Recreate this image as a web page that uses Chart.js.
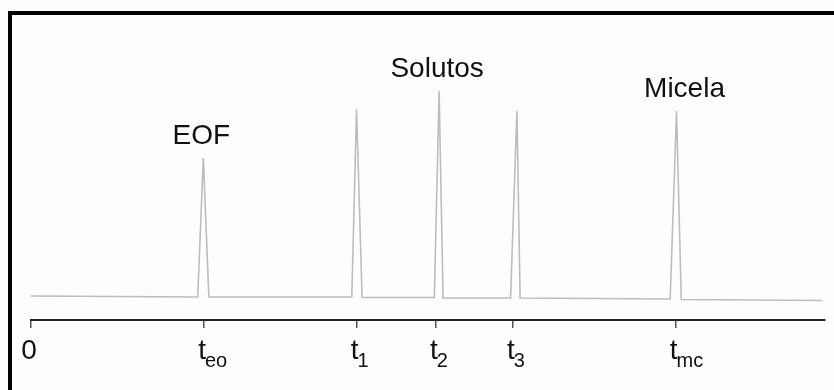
<!DOCTYPE html>
<html lang="es">
<head>
<meta charset="utf-8">
<title>Electroferograma MEKC</title>
<script src="https://cdn.jsdelivr.net/npm/chart.js@4.4.1/dist/chart.umd.min.js"></script>
<style>
  html, body { margin: 0; padding: 0; background: #fdfdfd; }
  #wrap { position: relative; width: 834px; height: 390px; overflow: hidden; }
  #frame {
    position: absolute; left: 8px; top: 11px; right: -10px; bottom: -10px;
    border-top: 4px solid #000; border-left: 4px solid #000;
  }
  canvas { position: absolute; left: 0; top: 0; }
</style>
</head>
<body>
<div id="wrap">
  <canvas id="electroferograma" width="834" height="390"></canvas>
  <div id="frame"></div>
</div>
<script>
// Tiempo de migración (u.a.) y señal del detector (u.a.)
const tiempo = [0, 21.0, 21.7, 22.4, 40.4, 41.0, 41.7, 50.8, 51.4, 51.9, 60.4, 61.2, 61.6, 80.5, 81.3, 81.9, 99.6];
const senal  = [0.1, 0, 13.9, 0, 0, 18.8, -0.05, -0.05, 20.6, -0.1, -0.1, 18.6, -0.1, -0.2, 18.6, -0.25, -0.35];

// Marcas del eje de tiempo: texto principal y subíndice
const tickTiempos = [0, 21.8, 41.0, 51.0, 60.7, 81.2];
const tickTexto = ['0', 't', 't', 't', 't', 't'];
const tickSub = ['', 'eo', '1', '2', '3', 'mc'];

// Rótulos de los picos y posición del máximo en la señal
const picoTexto = ['EOF', 'Solutos', 'Micela'];
const picoIndice = [2, 8, 14];

// Nivel (en unidades de señal) donde se dibuja el eje de tiempo
const ejeY = -2.3;

const FUENTE = '"Liberation Sans", Arial, sans-serif';

const rotulos = {
    id: 'rotulos',
    afterDraw(chart) {
        const { ctx } = chart;
        const x = chart.scales.x;
        const y = chart.scales.y;
        ctx.save();
        ctx.fillStyle = '#111';
        ctx.textBaseline = 'alphabetic';

        // nombres sobre los picos
        const desp = [-2, -2, 8];
        ctx.font = '28px ' + FUENTE;
        ctx.textAlign = 'center';
        picoTexto.forEach((txt, i) => {
            const k = picoIndice[i];
            ctx.fillText(txt, x.getPixelForValue(tiempo[k]) + desp[i], y.getPixelForValue(senal[k]) - 14);
        });

        // etiquetas del eje con subíndice
        const base = y.getPixelForValue(ejeY) + 39;
        tickTiempos.forEach((t, i) => {
            const px = x.getPixelForValue(t) - 2;
            ctx.font = '28px ' + FUENTE;
            ctx.textAlign = 'center';
            ctx.fillText(tickTexto[i], px, base);
            if (tickSub[i]) {
                const w = ctx.measureText(tickTexto[i]).width;
                ctx.font = '20px ' + FUENTE;
                ctx.textAlign = 'left';
                ctx.fillText(tickSub[i], px + w / 2 - 1, base + 8);
            }
        });
        ctx.restore();
    }
};

new Chart(document.getElementById('electroferograma'), {
    type: 'line',
    data: {
        datasets: [{
            label: 'Señal',
            data: tiempo.map((t, i) => ({ x: t, y: senal[i] })),
            borderColor: '#bdbdbd',
            borderWidth: 1.6,
            pointRadius: 0,
            tension: 0,
            fill: false
        }]
    },
    options: {
        responsive: false,
        animation: false,
        layout: { padding: { left: 31, right: 9, top: 0, bottom: 0 } },
        plugins: {
            legend: { display: false },
            tooltip: { enabled: false }
        },
        scales: {
            x: {
                type: 'linear',
                min: 0,
                max: 100,
                position: { y: ejeY },
                afterBuildTicks: (axis) => {
                    axis.ticks = tickTiempos.map(v => ({ value: v }));
                },
                ticks: { display: false },
                grid: {
                    drawOnChartArea: false,
                    drawTicks: true,
                    tickLength: 7,
                    color: '#555',
                    lineWidth: 1.5
                },
                border: { display: true, color: '#222', width: 2 }
            },
            y: {
                display: false,
                min: -9.3,
                max: 29.7
            }
        }
    },
    plugins: [rotulos]
});
</script>
</body>
</html>
